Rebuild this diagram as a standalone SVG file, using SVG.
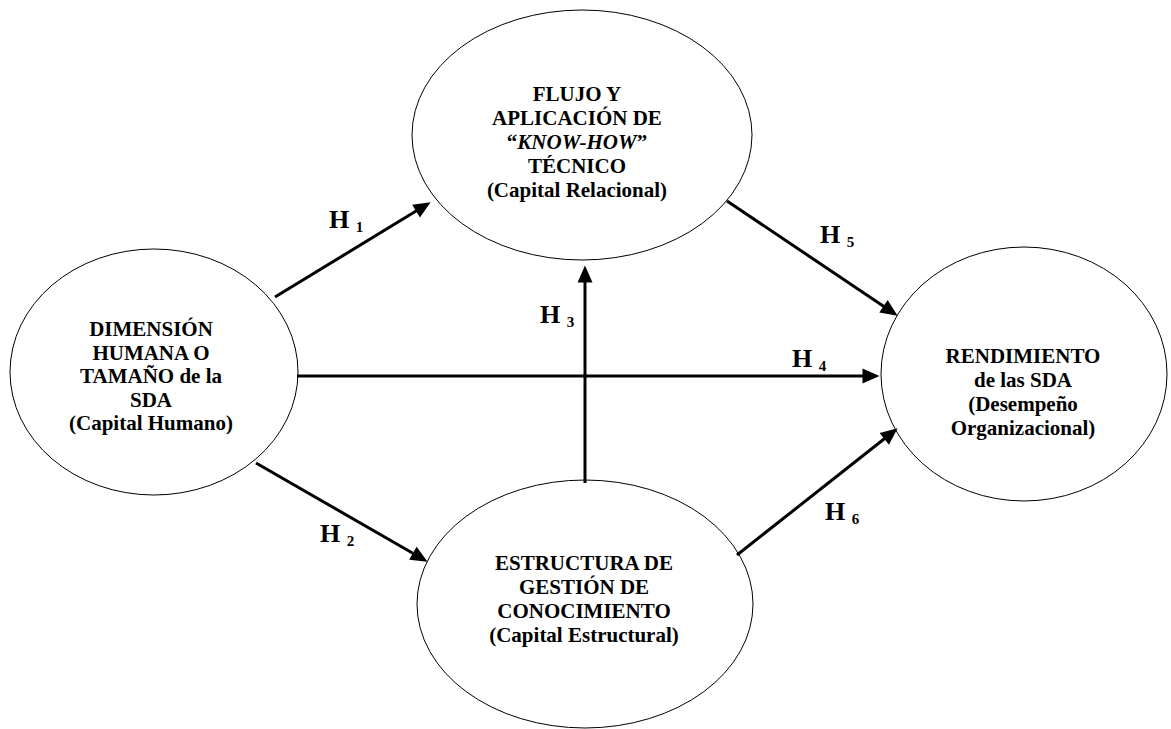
<svg xmlns="http://www.w3.org/2000/svg" width="1171" height="729" viewBox="0 0 1171 729">
  <style>
    .node ellipse { fill: #ffffff; stroke: #000000; stroke-width: 1; }
    .node text { font-family: "Liberation Serif", "Times New Roman", serif; font-weight: bold; font-size: 21px; fill: #000000; text-anchor: middle; }
    .edge { stroke: #000000; stroke-width: 3; fill: none; marker-end: url(#arrow); }
    .lbl { font-family: "Liberation Serif", "Times New Roman", serif; font-weight: bold; font-size: 26px; fill: #000000; }
    .lbl tspan.sub { font-size: 15px; }
  </style>
  <defs>
    <marker id="arrow" markerUnits="userSpaceOnUse" markerWidth="17" markerHeight="15" refX="0.5" refY="7.5" orient="auto" overflow="visible">
      <path d="M0,0 L17,7.5 L0,15 Z" fill="#000000"/>
    </marker>
  </defs>
  <rect width="1171" height="729" fill="#ffffff"/>

  <!-- nodes -->
  <g id="node-knowhow" class="node">
    <ellipse cx="582" cy="135" rx="170" ry="125"/>
    <text x="577" y="101">FLUJO Y</text>
    <text x="577" y="125">APLICACIÓN DE</text>
    <text x="577" y="149">“<tspan font-style="italic">KNOW-HOW</tspan>”</text>
    <text x="577" y="173">TÉCNICO</text>
    <text x="577" y="197">(Capital Relacional)</text>
  </g>
  <g id="node-humano" class="node">
    <ellipse cx="154" cy="372" rx="144" ry="123"/>
    <text x="151" y="336">DIMENSIÓN</text>
    <text x="151" y="360">HUMANA O</text>
    <text x="151" y="383">TAMAÑO de la</text>
    <text x="151" y="407">SDA</text>
    <text x="151" y="430">(Capital Humano)</text>
  </g>
  <g id="node-rendimiento" class="node">
    <ellipse cx="1024" cy="374" rx="143" ry="127"/>
    <text x="1023" y="363">RENDIMIENTO</text>
    <text x="1023" y="387">de las SDA</text>
    <text x="1023" y="411">(Desempeño</text>
    <text x="1023" y="435">Organizacional)</text>
  </g>
  <g id="node-estructura" class="node">
    <ellipse cx="585" cy="604" rx="168" ry="124"/>
    <text x="584" y="570">ESTRUCTURA DE</text>
    <text x="584" y="594">GESTIÓN DE</text>
    <text x="584" y="618">CONOCIMIENTO</text>
    <text x="584" y="642">(Capital Estructural)</text>
  </g>

  <!-- connectors -->
  <g id="connectors">
    <line class="edge" x1="275" y1="297" x2="416.5" y2="210.8"/>
    <line class="edge" x1="256" y1="463" x2="413.3" y2="553.5"/>
    <line class="edge" x1="585" y1="483" x2="585" y2="282"/>
    <line class="edge" x1="297" y1="376" x2="863" y2="376"/>
    <line class="edge" x1="727" y1="201" x2="883.9" y2="306.5"/>
    <line class="edge" x1="737" y1="555" x2="884.7" y2="438.5"/>
  </g>

  <!-- hypothesis labels -->
  <g id="labels">
    <text class="lbl" x="329" y="228">H <tspan class="sub" dy="4">1</tspan></text>
    <text class="lbl" x="320" y="542">H <tspan class="sub" dy="4">2</tspan></text>
    <text class="lbl" x="540" y="323">H <tspan class="sub" dy="4">3</tspan></text>
    <text class="lbl" x="792" y="367">H <tspan class="sub" dy="4">4</tspan></text>
    <text class="lbl" x="820" y="243">H <tspan class="sub" dy="4">5</tspan></text>
    <text class="lbl" x="825" y="520">H <tspan class="sub" dy="4">6</tspan></text>
  </g>
</svg>
